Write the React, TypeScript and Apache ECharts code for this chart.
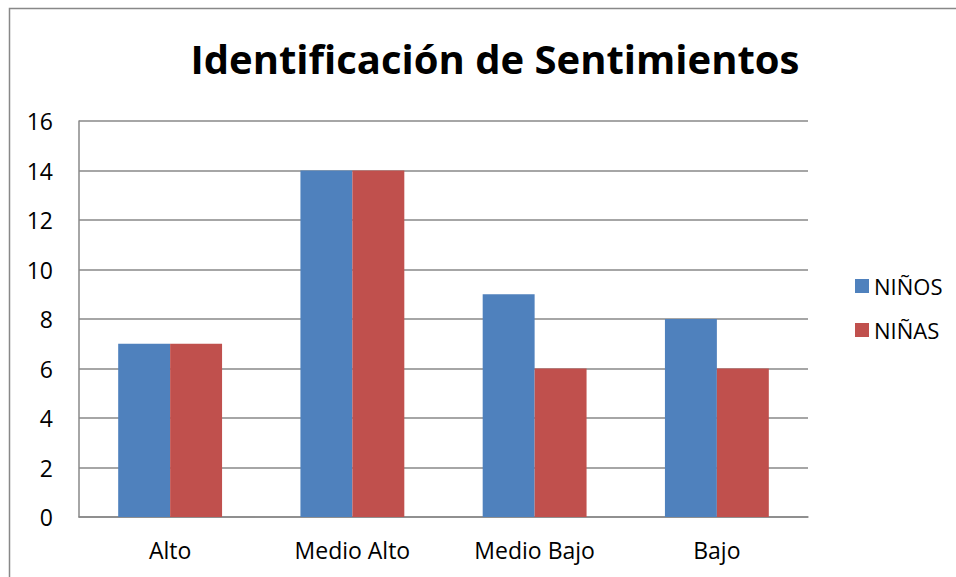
import React, { useEffect, useRef } from "react";
import * as echarts from "echarts";

const categories = ["Alto", "Medio Alto", "Medio Bajo", "Bajo"];
const ninos = [7, 14, 9, 8];
const ninas = [7, 14, 6, 6];
const seriesNames = ["NIÑOS", "NIÑAS"];
const titleText = "Identificación de Sentimientos";

const FONT = "'Open Sans', 'Noto Sans', sans-serif";

export default function App() {
  const ref = useRef<HTMLDivElement>(null);
  useEffect(() => {
    if (!ref.current) return;
    const chart = echarts.init(ref.current, undefined, { renderer: "svg" });
    chart.setOption({
      animation: false,
      backgroundColor: "#ffffff",
      title: {
        text: titleText,
        left: 490,
        textAlign: "center",
        top: 33,
        textStyle: { fontFamily: FONT, fontWeight: "bold", fontSize: 40, color: "#000" },
      },
      graphic: [
        {
          type: "rect",
          shape: { x: 9.5, y: 8.5, width: 1000, height: 1000 },
          style: { fill: "none", stroke: "#888", lineWidth: 1.5 },
          silent: true,
        },
      ],
      legend: {
        orient: "vertical",
        left: 850,
        top: 270,
        itemWidth: 14,
        itemHeight: 14,
        itemGap: 22,
        icon: "rect",
        textStyle: { fontFamily: FONT, fontSize: 22, color: "#000" },
        data: seriesNames,
      },
      grid: { left: 79, top: 121, right: 148, bottom: 60, containLabel: false },
      xAxis: {
        type: "category",
        data: categories,
        axisLine: { lineStyle: { color: "#888", width: 1.5 } },
        axisTick: { show: false },
        axisLabel: { fontFamily: FONT, fontSize: 23, color: "#000", margin: 21 },
      },
      yAxis: {
        type: "value",
        min: 0,
        max: 16,
        interval: 2,
        axisLine: { show: true, lineStyle: { color: "#888", width: 1.5 } },
        axisTick: { show: false },
        splitLine: { lineStyle: { color: "#888", width: 1.5 } },
        axisLabel: { fontFamily: FONT, fontSize: 23, color: "#000", margin: 26 },
      },
      series: [
        {
          name: seriesNames[0],
          type: "bar",
          data: ninos,
          barGap: "0%",
          barCategoryGap: "43%",
          itemStyle: { color: "#4F81BD" },
        },
        {
          name: seriesNames[1],
          type: "bar",
          data: ninas,
          barGap: "0%",
          barCategoryGap: "43%",
          itemStyle: { color: "#C0504D" },
        },
      ],
    });
    return () => chart.dispose();
  }, []);
  return (
    <div
      ref={ref}
      style={{ position: "fixed", left: 0, top: 0, width: 956, height: 577 }}
    />
  );
}
